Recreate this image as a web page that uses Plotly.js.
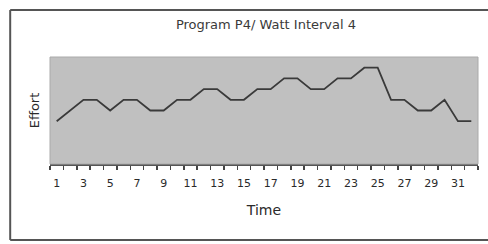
<!DOCTYPE html>
<html>
<head>
<meta charset="utf-8">
<script src="https://cdn.plot.ly/plotly-3.0.1.min.js"></script>
<style>html,body{margin:0;padding:0;background:#fff;}#chart{width:488px;height:244px;}</style>
</head>
<body>
<div id="chart"></div>
<script>
const timePoints = [1,2,3,4,5,6,7,8,9,10,11,12,13,14,15,16,17,18,19,20,21,22,23,24,25,26,27,28,29,30,31,32];
const effort = [4,5,6,6,5,6,6,5,5,6,6,7,7,6,6,7,7,8,8,7,7,8,8,9,9,6,6,5,5,6,4,4];
const tickLabels = ["1","3","5","7","9","11","13","15","17","19","21","23","25","27","29","31"];
const tickPositions = tickLabels.map(Number);

const fam = "DejaVu Sans, Verdana, sans-serif";

Plotly.newPlot("chart", [{
  x: timePoints, y: effort, type: "scatter", mode: "lines",
  line: {color: "#3a3a3a", width: 1.8},
  hoverinfo: "skip"
}], {
  width: 488, height: 244,
  margin: {l: 50, r: 10, t: 57, b: 80},
  paper_bgcolor: "#ffffff",
  plot_bgcolor: "#c0c0c0",
  font: {family: fam, color: "#333", size: 11},
  showlegend: false,
  title: {text: "Program P4/ Watt Interval 4", font: {family: fam, size: 13, color: "#3a3a3a"}, x: 0.545, xanchor: "center", y: 0.9, yanchor: "middle"},
  xaxis: {
    range: [0.5, 32.5], tickmode: "array", tickvals: tickPositions, ticktext: tickLabels,
    ticks: "outside", ticklen: 8, tickcolor: "rgba(0,0,0,0)",
    minor: {tick0: 0.5, dtick: 1, ticks: "outside", ticklen: 4, tickcolor: "#444", tickwidth: 1.5},
    showline: true, linecolor: "#555", linewidth: 1.5, showgrid: false, zeroline: false,
    tickfont: {family: fam, size: 11, color: "#2a2a2a"},
    title: {text: "Time", font: {family: fam, size: 14, color: "#2a2a2a"}, standoff: 16}
  },
  yaxis: {
    range: [0, 10], showticklabels: false, ticks: "", showgrid: false, zeroline: false,
    showline: false,
    title: {text: "Effort", font: {family: fam, size: 13, color: "#2a2a2a"}, standoff: 6}
  },
  shapes: [
    {type: "rect", xref: "paper", yref: "paper", x0: 0, x1: 1, y0: 0, y1: 1, line: {color: "#aaa", width: 1}},
    {type: "line", xref: "paper", yref: "paper", x0: -0.093, x1: 1.05, y0: 1.439, y1: 1.439, line: {color: "#555", width: 2}},
    {type: "line", xref: "paper", yref: "paper", x0: -0.093, x1: -0.093, y0: 1.439, y1: -0.71, line: {color: "#555", width: 2}},
    {type: "line", xref: "paper", yref: "paper", x0: -0.093, x1: 1.05, y0: -0.71, y1: -0.71, line: {color: "#555", width: 2}}
  ]
}, {displayModeBar: false, staticPlot: true});
</script>
</body>
</html>
